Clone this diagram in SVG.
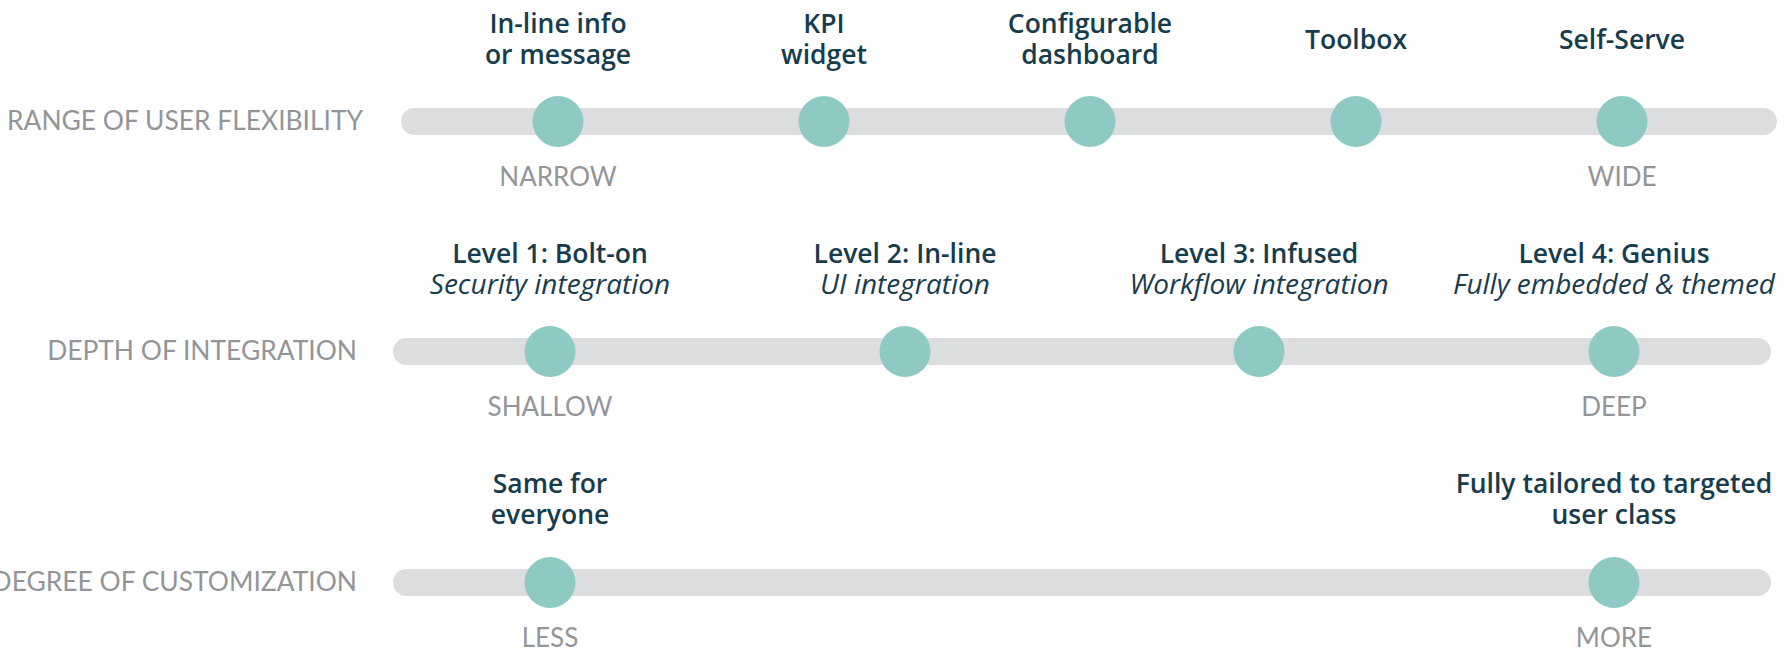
<svg xmlns="http://www.w3.org/2000/svg" width="1785" height="663" viewBox="0 0 1785 663">
<style>
.axis{font-family:Lato,"Liberation Sans",sans-serif;font-size:26.4px;fill:#939598;text-anchor:end}
.end{font-family:Lato,"Liberation Sans",sans-serif;font-size:26px;fill:#939598;text-anchor:middle}
.t{font-family:"Open Sans","Liberation Sans",sans-serif;font-size:26.5px;font-weight:600;fill:#173c4d;text-anchor:middle}
.i{font-family:"Open Sans","Liberation Sans",sans-serif;font-size:28px;font-style:italic;fill:#173c4d;text-anchor:middle}
.track{fill:#dcdddf}
.dot{fill:#8fc9c3}
</style>
<rect width="1785" height="663" fill="#ffffff"/>
<g id="axis-labels">
<text class="axis" x="363" y="130">RANGE OF USER FLEXIBILITY</text>
<text class="axis" x="357" y="360">DEPTH OF INTEGRATION</text>
<text class="axis" x="357" y="591">DEGREE OF CUSTOMIZATION</text>
</g>
<g id="connectors">
<rect class="track" x="401" y="108" width="1376" height="27" rx="13.5"/>
<rect class="track" x="393" y="338" width="1378" height="27" rx="13.5"/>
<rect class="track" x="393" y="569" width="1378" height="27" rx="13.5"/>
</g>
<g id="node-inline-info">
<circle class="dot" cx="558" cy="121.5" r="25.5"/>
<text class="t" x="558" y="33">In-line info</text>
<text class="t" x="558" y="64">or message</text>
<text class="end" x="558" y="186">NARROW</text>
</g>
<g id="node-kpi">
<circle class="dot" cx="824" cy="121.5" r="25.5"/>
<text class="t" x="824" y="33">KPI</text>
<text class="t" x="824" y="64">widget</text>
</g>
<g id="node-dashboard">
<circle class="dot" cx="1090" cy="121.5" r="25.5"/>
<text class="t" x="1090" y="33">Configurable</text>
<text class="t" x="1090" y="64">dashboard</text>
</g>
<g id="node-toolbox">
<circle class="dot" cx="1356" cy="121.5" r="25.5"/>
<text class="t" x="1356" y="48.5">Toolbox</text>
</g>
<g id="node-selfserve">
<circle class="dot" cx="1622" cy="121.5" r="25.5"/>
<text class="t" x="1622" y="48.5">Self-Serve</text>
<text class="end" x="1622" y="186">WIDE</text>
</g>
<g id="node-level1">
<circle class="dot" cx="550" cy="351.5" r="25.5"/>
<text class="t" x="550" y="263">Level 1: Bolt-on</text>
<text class="i" x="550" y="294">Security integration</text>
<text class="end" x="550" y="416">SHALLOW</text>
</g>
<g id="node-level2">
<circle class="dot" cx="905" cy="351.5" r="25.5"/>
<text class="t" x="905" y="263">Level 2: In-line</text>
<text class="i" x="905" y="294">UI integration</text>
</g>
<g id="node-level3">
<circle class="dot" cx="1259" cy="351.5" r="25.5"/>
<text class="t" x="1259" y="263">Level 3: Infused</text>
<text class="i" x="1259" y="294">Workflow integration</text>
</g>
<g id="node-level4">
<circle class="dot" cx="1614" cy="351.5" r="25.5"/>
<text class="t" x="1614" y="263">Level 4: Genius</text>
<text class="i" x="1614" y="294">Fully embedded &amp; themed</text>
<text class="end" x="1614" y="416">DEEP</text>
</g>
<g id="node-same">
<circle class="dot" cx="550" cy="582.5" r="25.5"/>
<text class="t" x="550" y="493">Same for</text>
<text class="t" x="550" y="524">everyone</text>
<text class="end" x="550" y="647">LESS</text>
</g>
<g id="node-tailored">
<circle class="dot" cx="1614" cy="582.5" r="25.5"/>
<text class="t" x="1614" y="493">Fully tailored to targeted</text>
<text class="t" x="1614" y="524">user class</text>
<text class="end" x="1614" y="647">MORE</text>
</g>
</svg>
